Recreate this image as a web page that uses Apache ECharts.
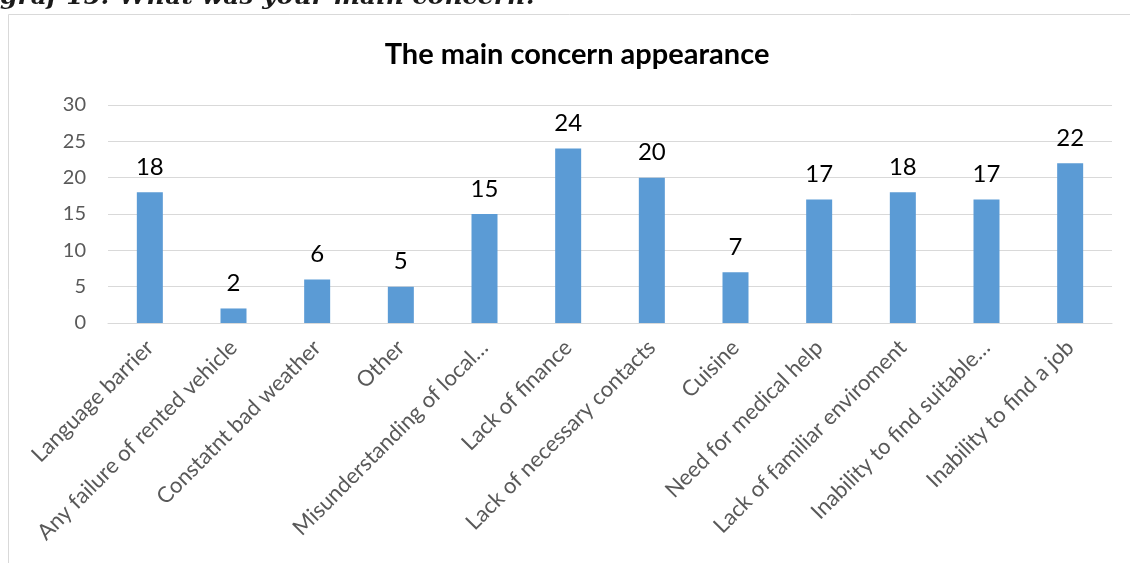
<!DOCTYPE html>
<html>
<head>
<meta charset="utf-8">
<script src="https://cdn.jsdelivr.net/npm/echarts@6/dist/echarts.min.js"></script>
<style>
  html, body { margin: 0; padding: 0; background: #fff; }
  #chart { width: 1130px; height: 563px; }
</style>
</head>
<body>
<div id="chart"></div>
<script>
// Survey answers: how often each concern was named
const categories = [
  'Language barrier',
  'Any failure of rented vehicle',
  'Constatnt bad weather',
  'Other',
  'Misunderstanding of local…',
  'Lack of finance',
  'Lack of necessary contacts',
  'Cuisine',
  'Need for medical help',
  'Lack of familiar enviroment',
  'Inability to find suitable…',
  'Inability to find a job'
];
const counts = [18, 2, 6, 5, 15, 24, 20, 7, 17, 18, 17, 22];
const yTicks = [0, 5, 10, 15, 20, 25, 30];

const chart = echarts.init(document.getElementById('chart'), null, { renderer: 'canvas' });

chart.setOption({
  animation: false,
  backgroundColor: '#ffffff',
  graphic: [
    // caption above the chart frame (partly out of view)
    {
      type: 'text',
      left: 0,
      top: -15,
      style: {
        text: 'graf 15: What was your main concern?',
        font: 'italic bold 25px "DejaVu Serif"',
        fill: '#1a1a1a'
      }
    },
    // chart frame
    {
      type: 'rect',
      shape: { x: 8.5, y: 14.5, width: 1200, height: 700 },
      style: { fill: 'none', stroke: '#d9d9d9', lineWidth: 1 }
    },
    // chart title
    {
      type: 'text',
      x: 577,
      y: 40,
      style: {
        text: 'The main concern appearance',
        font: 'bold 29px Lato',
        fill: '#000000',
        textAlign: 'center',
        textVerticalAlign: 'top'
      }
    }
  ],
  grid: {
    left: 108,
    right: 18,
    top: 105,
    bottom: 240,
    containLabel: false
  },
  xAxis: {
    type: 'category',
    data: categories,
    axisLine: { lineStyle: { color: '#d9d9d9', width: 1 } },
    axisTick: { show: false },
    axisLabel: {
      rotate: 45,
      interval: 0,
      margin: 21,
      fontFamily: 'Lato',
      fontSize: 22,
      color: '#595959'
    }
  },
  yAxis: {
    type: 'value',
    min: 0,
    max: 30,
    interval: 5,
    axisLine: { show: false },
    axisTick: { show: false },
    splitLine: { lineStyle: { color: '#d9d9d9', width: 1 } },
    axisLabel: {
      margin: 22,
      fontFamily: 'Lato',
      fontSize: 20,
      color: '#595959',
      formatter: function (v) { return yTicks.indexOf(v) >= 0 ? String(v) : ''; }
    }
  },
  series: [
    {
      type: 'bar',
      data: counts,
      barWidth: 26,
      itemStyle: { color: '#5b9bd5' },
      label: {
        show: true,
        position: 'top',
        distance: 13,
        fontFamily: 'Lato',
        fontSize: 24,
        color: '#000000'
      }
    }
  ]
});
</script>
</body>
</html>
